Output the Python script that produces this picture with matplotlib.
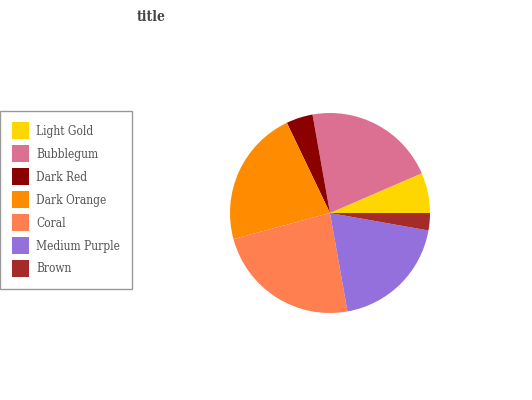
import matplotlib
matplotlib.use("Agg")
import matplotlib.pyplot as plt

# slice data, in drawing order (counter-clockwise from 3 o'clock)
labels = ["Light Gold", "Bubblegum", "Dark Red", "Dark Orange", "Coral", "Medium Purple", "Brown"]
values = [6.5, 21.3, 4.3, 22.1, 23.6, 19.4, 2.8]
colors = ["#FFD700", "#DB7093", "#8B0000", "#FF8C00", "#FF7F50", "#9370DB", "#A52A2A"]

plt.rcParams["font.family"] = ["DejaVu Serif"]
plt.rcParams["font.stretch"] = "condensed"
text_color = "#555555"

fig = plt.figure(figsize=(5.32, 4.0), dpi=100)

# pie centred at about (330, 213) px with radius 100 px
ax = fig.add_axes([230 / 532, 87 / 400, 200 / 532, 200 / 400])
wedges, _ = ax.pie(values, colors=colors, startangle=0, counterclock=True, radius=1)
ax.set_xlim(-1, 1)
ax.set_ylim(-1, 1)
ax.set_aspect("equal")
ax.axis("off")

fig.text(151 / 532, 1 - 17 / 400, "title", ha="center", va="center",
         fontsize=10, fontweight="bold", color="#444444")

leg = fig.legend(wedges, labels, loc="upper left", bbox_to_anchor=(0, 1 - 110.5 / 400),
                 borderaxespad=0, fontsize=8.6, frameon=True, fancybox=False,
                 handlelength=1.42, handleheight=1.81, handletextpad=0.59,
                 labelspacing=0.5, borderpad=1.0)
leg.get_frame().set_edgecolor("#808080")
leg.get_frame().set_linewidth(1.0)
for t in leg.get_texts():
    t.set_color(text_color)

fig.savefig("out.png", dpi=100)
